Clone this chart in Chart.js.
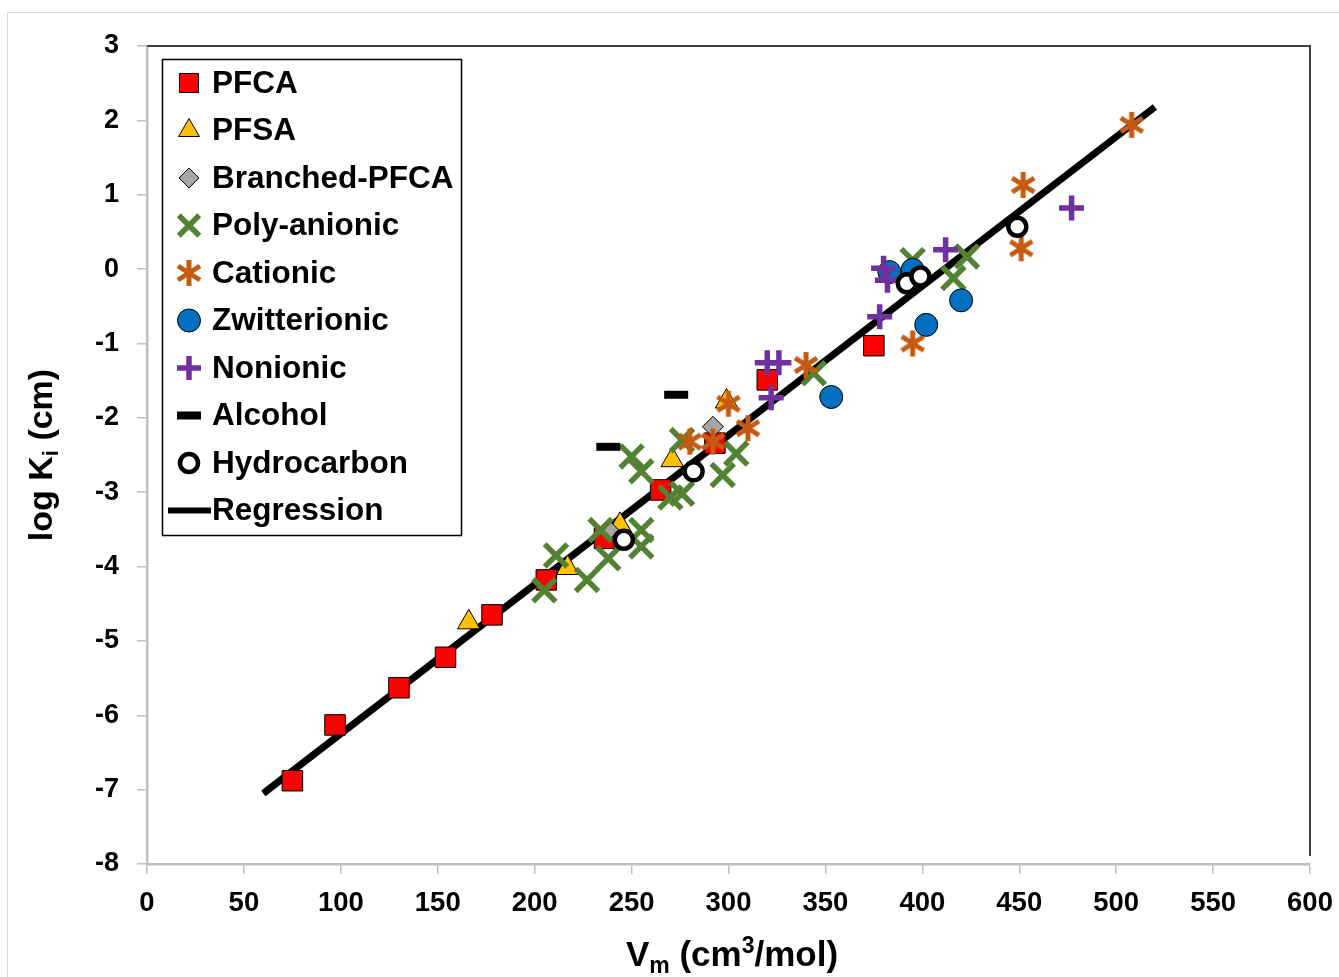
<!DOCTYPE html>
<html>
<head>
<meta charset="utf-8">
<script src="https://cdn.jsdelivr.net/npm/chart.js@4.4.1/dist/chart.umd.min.js"></script>
<style>
  html, body { margin: 0; padding: 0; background: #fff; }
  #wrap { width: 1339px; height: 977px; position: relative; }
</style>
</head>
<body>
<div id="wrap"><canvas id="chart"></canvas></div>
<script>
// values (Vm in cm3/mol, log Ki in cm)
const pfcaX = [75, 97, 130, 154, 178, 206, 236, 265, 293, 320, 375];
const pfcaY = [-6.88, -6.13, -5.63, -5.22, -4.65, -4.18, -3.62, -2.97, -2.34, -1.49, -1.03];

const pfsaX = [166, 217, 244, 271, 299];
const pfsaY = [-4.75, -4.02, -3.44, -2.57, -1.78];

const branchedX = [238, 292];
const branchedY = [-3.51, -2.12];

const polyX = [205, 211, 227, 234, 238, 250, 255, 255, 255, 270, 276, 276, 297, 304, 344, 395, 416, 423];
const polyY = [-4.32, -3.85, -4.18, -3.51, -3.89, -2.52, -2.72, -3.51, -3.73, -3.07, -3.02, -2.30, -2.77, -2.48, -1.40, 0.12, -0.12, 0.17];

const cationicX = [280, 292, 300, 310, 340, 395, 451, 452, 508];
const cationicY = [-2.32, -2.32, -1.81, -2.14, -1.29, -1.00, 0.28, 1.13, 1.94];

const zwitterX = [353, 383, 395, 402, 420];
const zwitterY = [-1.72, -0.04, -0.01, -0.75, -0.42];

const nonionicX = [320, 322, 326, 378, 380, 382, 412, 477];
const nonionicY = [-1.26, -1.73, -1.26, -0.64, 0.01, -0.15, 0.26, 0.82];

const alcoholX = [238, 273];
const alcoholY = [-2.39, -1.69];

const hydroX = [246, 282, 392, 399, 449];
const hydroY = [-3.64, -2.72, -0.19, -0.10, 0.57];

const regX = [60, 520];
const regY = [-7.05, 2.18];

const xTicks = [0, 50, 100, 150, 200, 250, 300, 350, 400, 450, 500, 550, 600];
const yTicks = [-8, -7, -6, -5, -4, -3, -2, -1, 0, 1, 2, 3];

const FONT = '"Liberation Sans", Arial, Helvetica, sans-serif';

function pts(xs, ys) {
  return xs.map((x, i) => ({ x: x, y: ys[i] }));
}

// Excel style star marker: X with a vertical bar
function makeStar(color) {
  const c = document.createElement('canvas');
  c.width = 28;
  c.height = 28;
  const g = c.getContext('2d');
  g.strokeStyle = color;
  g.lineWidth = 5;
  g.beginPath();
  g.moveTo(3, 7); g.lineTo(25, 21);
  g.moveTo(25, 7); g.lineTo(3, 21);
  g.moveTo(14, 1); g.lineTo(14, 27);
  g.stroke();
  return c;
}
const starImg = makeStar('#C55A11');

const series = [
  { label: 'PFCA', data: pts(pfcaX, pfcaY), pointStyle: 'rect', pointRadius: 14.5,
    backgroundColor: '#FF0000', borderColor: '#000000', borderWidth: 1 },
  { label: 'PFSA', data: pts(pfsaX, pfsaY), pointStyle: 'triangle', pointRadius: 13,
    backgroundColor: '#FFC000', borderColor: '#000000', borderWidth: 1 },
  { label: 'Branched-PFCA', data: pts(branchedX, branchedY), pointStyle: 'rectRot', pointRadius: 10.5,
    backgroundColor: '#A5A5A5', borderColor: '#000000', borderWidth: 1 },
  { label: 'Poly-anionic', data: pts(polyX, polyY), pointStyle: 'crossRot', pointRadius: 16,
    backgroundColor: '#548235', borderColor: '#548235', borderWidth: 5.5 },
  { label: 'Cationic', data: pts(cationicX, cationicY), pointStyle: starImg, pointRadius: 14,
    backgroundColor: '#C55A11', borderColor: '#C55A11', borderWidth: 0 },
  { label: 'Zwitterionic', data: pts(zwitterX, zwitterY), pointStyle: 'circle', pointRadius: 11.5,
    backgroundColor: '#0070C0', borderColor: '#000000', borderWidth: 1 },
  { label: 'Nonionic', data: pts(nonionicX, nonionicY), pointStyle: 'cross', pointRadius: 12.5,
    backgroundColor: '#7030A0', borderColor: '#7030A0', borderWidth: 5.5 },
  { label: 'Alcohol', data: pts(alcoholX, alcoholY), pointStyle: 'line', pointRadius: 12,
    backgroundColor: '#000000', borderColor: '#000000', borderWidth: 8 },
  { label: 'Hydrocarbon', data: pts(hydroX, hydroY), pointStyle: 'circle', pointRadius: 9,
    backgroundColor: '#FFFFFF', borderColor: '#000000', borderWidth: 4.5 }
];

const datasets = series.map((s, i) => ({
  label: s.label,
  data: s.data,
  showLine: false,
  pointStyle: s.pointStyle,
  pointRadius: s.pointRadius,
  pointHoverRadius: s.pointRadius,
  pointBackgroundColor: s.backgroundColor,
  pointBorderColor: s.borderColor,
  pointBorderWidth: s.borderWidth,
  backgroundColor: s.backgroundColor,
  borderColor: s.borderColor,
  order: 20 - i
}));

datasets.push({
  label: 'Regression',
  data: pts(regX, regY),
  showLine: true,
  borderColor: '#000000',
  borderWidth: 7,
  pointRadius: 0,
  pointHoverRadius: 0,
  order: 100
});

// legend marker sizes are a touch smaller than the plotted ones
const legendRadius = {
  'PFCA': 13.5, 'PFSA': 12, 'Branched-PFCA': 10, 'Poly-anionic': 14.5, 'Cationic': 13,
  'Zwitterionic': 11.5, 'Nonionic': 12, 'Alcohol': 12, 'Hydrocarbon': 9
};

// frame, legend box and axis titles with sub/superscripts
const decor = {
  id: 'decor',
  beforeDraw(chart) {
    const ctx = chart.ctx;
    ctx.save();
    ctx.fillStyle = '#FFFFFF';
    ctx.fillRect(0, 0, chart.width, chart.height);
    ctx.strokeStyle = '#D9D9D9';
    ctx.lineWidth = 1;
    ctx.beginPath();
    ctx.moveTo(7.5, chart.height);
    ctx.lineTo(7.5, 12.5);
    ctx.lineTo(chart.width, 12.5);
    ctx.stroke();
    ctx.restore();
  },
  afterDraw(chart) {
    const ctx = chart.ctx;
    const a = chart.chartArea;
    ctx.save();

    // top and right border of the plot area
    ctx.strokeStyle = '#404040';
    ctx.lineWidth = 2;
    ctx.beginPath();
    ctx.moveTo(a.left, a.top);
    ctx.lineTo(a.right, a.top);
    ctx.lineTo(a.right, a.bottom - 8);
    ctx.stroke();

    // legend
    const lx = 162, ly = 59, lw = 299, lh = 476, rowH = 47.5;
    ctx.fillStyle = '#FFFFFF';
    ctx.fillRect(lx, ly, lw, lh);
    ctx.strokeStyle = '#000000';
    ctx.lineWidth = 1.5;
    ctx.strokeRect(lx + 0.5, ly + 0.5, lw, lh);
    ctx.font = 'bold 31.5px ' + FONT;
    ctx.textBaseline = 'middle';
    ctx.textAlign = 'left';
    chart.data.datasets.forEach((ds, i) => {
      const cy = ly + 24 + i * rowH;
      const cx = 189;
      if (ds.label === 'Regression') {
        ctx.strokeStyle = '#000000';
        ctx.lineWidth = 6;
        ctx.beginPath();
        ctx.moveTo(168, cy);
        ctx.lineTo(211, cy);
        ctx.stroke();
      } else {
        ctx.fillStyle = ds.pointBackgroundColor;
        ctx.strokeStyle = ds.pointBorderColor;
        ctx.lineWidth = ds.pointBorderWidth;
        Chart.helpers.drawPoint(ctx, {
          pointStyle: ds.pointStyle,
          rotation: 0,
          radius: legendRadius[ds.label],
          borderWidth: ds.pointBorderWidth
        }, cx, cy);
      }
      ctx.fillStyle = '#000000';
      ctx.fillText(ds.label, 212, cy + 1);
    });

    // y title: log K_i (cm)
    ctx.fillStyle = '#000000';
    ctx.textBaseline = 'alphabetic';
    ctx.textAlign = 'left';
    const big = 'bold 34px ' + FONT;
    const small = 'bold 22px ' + FONT;
    ctx.font = big;
    const p1 = 'log K', p3 = ' (cm)';
    const w1 = ctx.measureText(p1).width, w3 = ctx.measureText(p3).width;
    ctx.font = small;
    const w2 = ctx.measureText('i').width;
    const yw = w1 + w2 + w3;
    ctx.translate(52, (a.top + a.bottom) / 2);
    ctx.rotate(-Math.PI / 2);
    let px = -yw / 2;
    ctx.font = big;
    ctx.fillText(p1, px, 0);
    px += w1;
    ctx.font = small;
    ctx.fillText('i', px, 6);
    px += w2;
    ctx.font = big;
    ctx.fillText(p3, px, 0);
    ctx.setTransform(1, 0, 0, 1, 0, 0);

    // x title: V_m (cm^3/mol)
    const bigX = 'bold 35px ' + FONT;
    const smallX = 'bold 23px ' + FONT;
    const parts = [
      { t: 'V', f: bigX, dy: 0 },
      { t: 'm', f: smallX, dy: 7 },
      { t: ' (cm', f: bigX, dy: 0 },
      { t: '3', f: smallX, dy: -13 },
      { t: '/mol)', f: bigX, dy: 0 }
    ];
    let tw = 0;
    parts.forEach(p => { ctx.font = p.f; p.w = ctx.measureText(p.t).width; tw += p.w; });
    px = 732 - tw / 2;
    const base = 966;
    parts.forEach(p => {
      ctx.font = p.f;
      ctx.fillText(p.t, px, base + p.dy);
      px += p.w;
    });
    ctx.restore();
  }
};

new Chart(document.getElementById('chart'), {
  type: 'scatter',
  data: { datasets: datasets },
  options: {
    responsive: true,
    maintainAspectRatio: false,
    animation: false,
    events: [],
    layout: { padding: { top: 46, right: 29, left: 0, bottom: 0 } },
    plugins: {
      legend: { display: false },
      tooltip: { enabled: false }
    },
    scales: {
      x: {
        type: 'linear',
        min: 0,
        max: 600,
        afterBuildTicks(scale) { scale.ticks = xTicks.map(v => ({ value: v })); },
        afterFit(scale) {
          scale.height = 113;
          scale.paddingLeft = 0;
          scale.paddingRight = 0;
        },
        border: { color: '#BFBFBF', width: 2.5 },
        grid: { drawOnChartArea: false, drawTicks: true, tickLength: 10, color: '#BFBFBF', lineWidth: 1.5 },
        ticks: { color: '#000000', padding: 13, maxRotation: 0, autoSkip: false,
                 font: { family: FONT, size: 27.5, weight: 'bold' } }
      },
      y: {
        type: 'linear',
        min: -8,
        max: 3,
        afterBuildTicks(scale) { scale.ticks = yTicks.map(v => ({ value: v })); },
        afterFit(scale) { scale.width = 147; },
        border: { color: '#BFBFBF', width: 2.5 },
        grid: { drawOnChartArea: false, drawTicks: true, tickLength: 10, color: '#BFBFBF', lineWidth: 1.5 },
        ticks: { color: '#000000', padding: 18, autoSkip: false,
                 font: { family: FONT, size: 27, weight: 'bold' } }
      }
    }
  },
  plugins: [decor]
});
</script>
</body>
</html>
